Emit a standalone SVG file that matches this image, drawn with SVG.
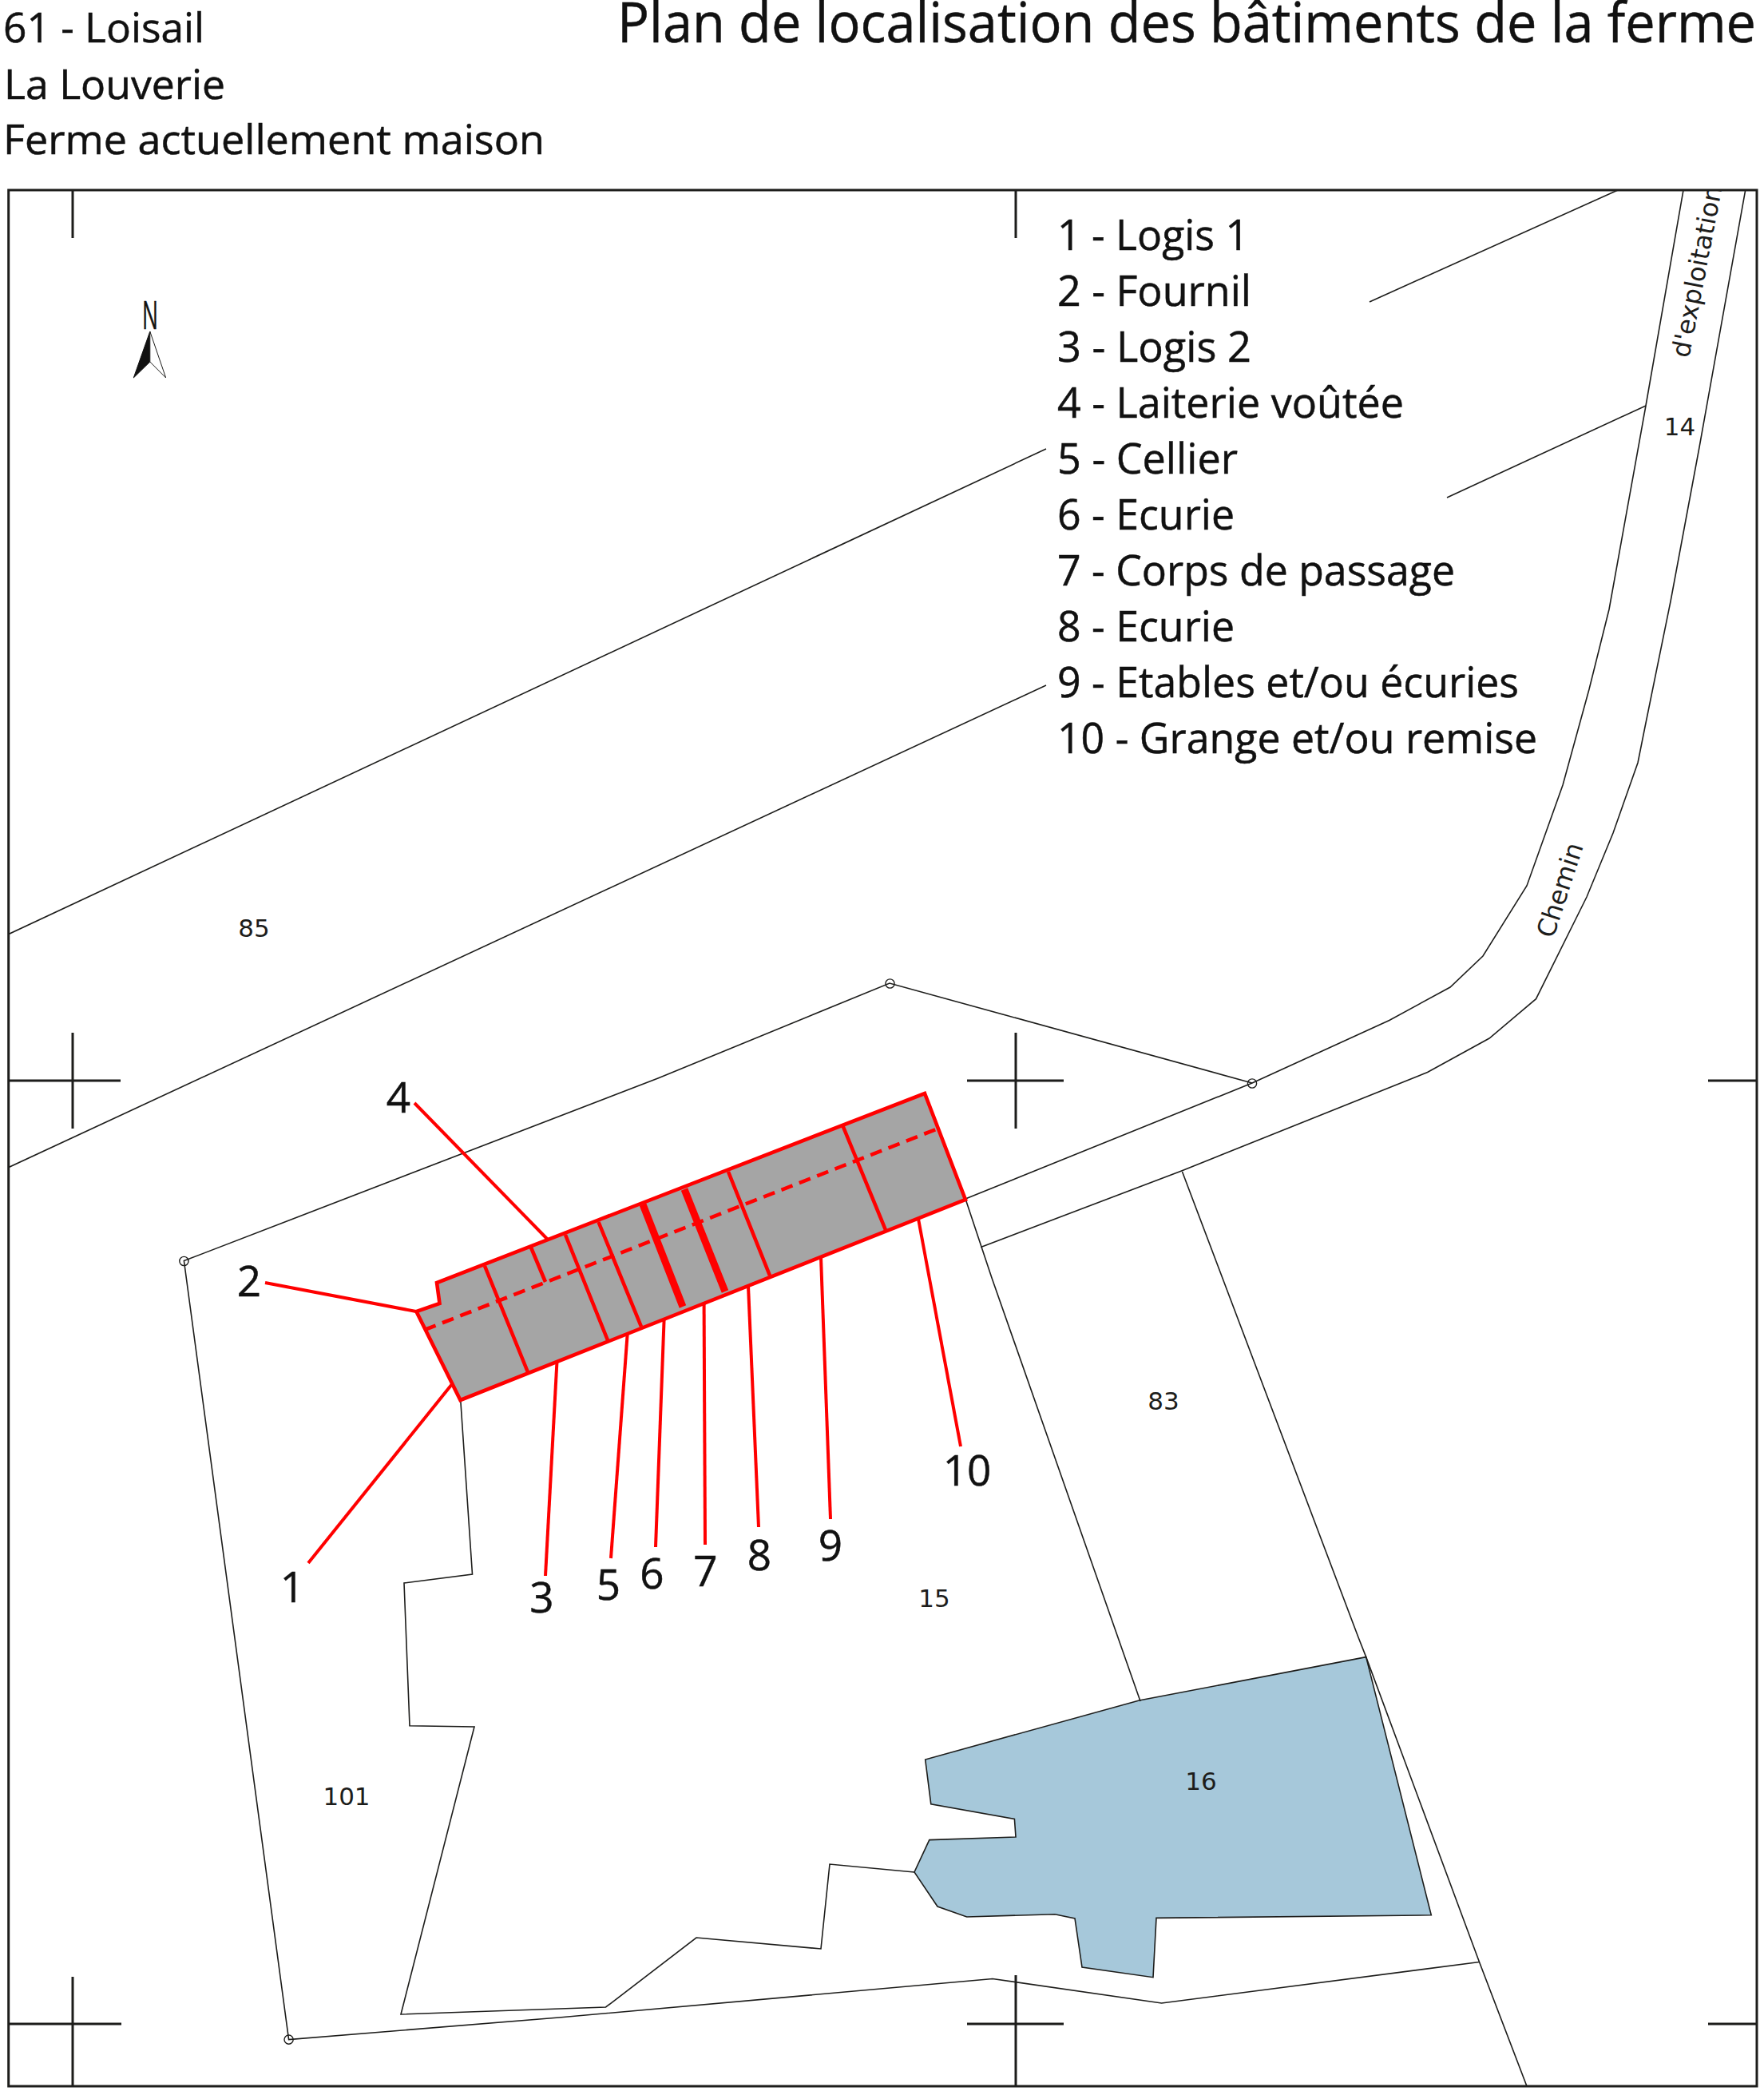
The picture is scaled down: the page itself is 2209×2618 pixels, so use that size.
<svg xmlns="http://www.w3.org/2000/svg" width="2209" height="2618" viewBox="0 0 2209 2618">
<style>
.t{font-family:"Open Sans","Noto Sans","Liberation Sans",sans-serif;fill:#111;stroke:#111;stroke-width:.5}
.hd{font-size:52px}
.lg{font-size:53px}
.num{font-size:53px;text-anchor:middle}
.p{font-family:"DejaVu Sans",sans-serif;font-size:31px;fill:#1d1d1b;text-anchor:middle}
.r{font-family:"DejaVu Sans",sans-serif;font-size:32px;fill:#1d1d1b}
.thin{fill:none;stroke:#1d1d1b;stroke-width:1.6;stroke-linejoin:miter}
.tick{fill:none;stroke:#1d1d1b;stroke-width:3}
.red{fill:none;stroke:#f00;stroke-width:4.6}
.lead{fill:none;stroke:#f00;stroke-width:4}
.thick{fill:none;stroke:#f00;stroke-width:9}
.dash{fill:none;stroke:#f00;stroke-width:4.6;stroke-dasharray:15 9}
.pt{fill:none;stroke:#1d1d1b;stroke-width:1.4}
</style>
<defs><clipPath id="map"><rect x="10.7" y="238" width="2189.3" height="2374"/></clipPath></defs>
<rect width="2209" height="2618" fill="#fff"/>

<g id="header">
<text class="t hd" x="4" y="53" textLength="252" lengthAdjust="spacingAndGlyphs">61 - Loisail</text>
<text class="t hd" x="5" y="124" textLength="277" lengthAdjust="spacingAndGlyphs">La Louverie</text>
<text class="t hd" x="4" y="193" textLength="678" lengthAdjust="spacingAndGlyphs">Ferme actuellement maison</text>
<text class="t" x="773" y="53" font-size="69" textLength="1426" lengthAdjust="spacingAndGlyphs">Plan de localisation des bâtiments de la ferme</text>
</g>

<g id="parcels">
<polygon id="parcel-16" points="1710.7,2074.6 1426.5,2129 1158.7,2203 1165.8,2258.7 1270.4,2277.5 1272,2300 1163.8,2303.6 1145,2344 1174,2387 1210.7,2400 1321,2396.7 1346,2402 1355,2463 1444,2475.7 1448,2401.4 1792.3,2397.8" fill="#a6c8da" stroke="#1d1d1b" stroke-width="1.6"/>
<g clip-path="url(#map)">
<polyline class="thin" points="2108,238 2061,508 2015,763 1990,863 1957,983 1912,1109 1857,1197 1816,1236 1739.8,1277.5 1568,1356 1209,1501"/>
<polyline class="thin" points="2185.7,238 2128,560 2092,753 2060,910 2051,955 2020,1043 1987,1123 1923.5,1250.7 1865,1300 1787.6,1342.5 1479.6,1466 1228.3,1561.4"/>
<line class="thin" x1="2026" y1="238" x2="1715" y2="378"/>
<line class="thin" x1="2061" y1="508" x2="1812" y2="623"/>
<line class="thin" x1="10" y1="1170" x2="1310" y2="562"/>
<line class="thin" x1="10" y1="1462" x2="1310" y2="858"/>
<polyline class="thin" points="1209,1501 1242,1600 1428,2130"/>
<polyline class="thin" points="1480.5,1467 1701,2050 1710.7,2074.6 1852.5,2456.5 1912,2612"/>
<polyline class="thin" points="1568,1356 1114,1231 824,1350 230.4,1578.6 361.6,2553.6 700,2526 1243,2477.5 1454.6,2508 1852.5,2456.5"/>
<polyline class="thin" points="576.8,1753.6 591.5,1971 506,1982 513,2160.7 594,2162 502,2522 758.6,2513 872,2426 1028,2440 1039,2334 1145,2344"/>
</g>
<circle class="pt" cx="230.4" cy="1579" r="5.6"/>
<circle class="pt" cx="361.6" cy="2553.6" r="5.6"/>
<circle class="pt" cx="1114.5" cy="1231.5" r="5.6"/>
<circle class="pt" cx="1568" cy="1356.5" r="5.6"/>
</g>

<g id="frame">
<rect class="tick" x="10.7" y="238" width="2189.3" height="2374"/>
<path class="tick" d="M91 238V298M1272 238V298M91 1293V1413M11 1353H151M1272 1293V1413M1211 1353H1332M2139 1353H2200M91 2475V2612M11 2534H152M1272 2473V2612M1211 2534H1332M2139 2534H2200"/>
</g>

<g id="north">
<text class="t" x="178" y="412" font-size="49" textLength="20" lengthAdjust="spacingAndGlyphs">N</text>
<polygon points="187.8,415 187.8,453 167.3,473" fill="#111" stroke="#111" stroke-width="1"/>
<polygon points="187.8,415 187.8,453 207.7,473" fill="#fff" stroke="#1d1d1b" stroke-width="1"/>
</g>

<g id="building">
<polygon points="547,1606 550.5,1632 521.4,1642 576.5,1753 1209,1502 1158,1369" fill="#a5a5a5"/>
<path class="red" d="M607 1585L661 1718M665 1562L683 1605M708 1546L761 1678M749.5 1530L803 1661M912 1467L964 1597M1055.6 1410L1109 1540"/>
<path class="thick" d="M805 1508L855 1636M857 1489L908 1617"/>
<line class="dash" x1="531.6" y1="1665" x2="1174.5" y2="1413"/>
<polygon class="red" points="547,1606 550.5,1632 521.4,1642 576.5,1753 1209,1502 1158,1369"/>
</g>

<g id="connectors">
<line class="lead" x1="519" y1="1381" x2="686" y2="1552"/>
<line class="lead" x1="332" y1="1606" x2="521" y2="1642"/>
<line class="lead" x1="386" y1="1957" x2="566" y2="1733"/>
<line class="lead" x1="683" y1="1973" x2="697.4" y2="1706"/>
<line class="lead" x1="765" y1="1951" x2="785.7" y2="1670"/>
<line class="lead" x1="821" y1="1937" x2="831.6" y2="1652"/>
<line class="lead" x1="883" y1="1934" x2="881.6" y2="1633"/>
<line class="lead" x1="950" y1="1912" x2="937" y2="1610"/>
<line class="lead" x1="1040" y1="1902" x2="1028" y2="1574"/>
<line class="lead" x1="1203" y1="1811" x2="1150" y2="1526"/>
</g>

<g id="labels">
<text class="t num" x="499" y="1393">4</text>
<text class="t num" x="312" y="1623">2</text>
<text class="t num" x="366" y="2006">1</text>
<text class="t num" x="678.5" y="2019">3</text>
<text class="t num" x="762" y="2003">5</text>
<text class="t num" x="816.5" y="1989">6</text>
<text class="t num" x="883.5" y="1986">7</text>
<text class="t num" x="951" y="1966">8</text>
<text class="t num" x="1040" y="1954">9</text>
<text class="t num" x="1211" y="1860">10</text>
</g>

<g id="legend">
<text class="t lg" x="1324" y="313" textLength="240" lengthAdjust="spacingAndGlyphs">1 - Logis 1</text>
<text class="t lg" x="1324" y="383" textLength="243" lengthAdjust="spacingAndGlyphs">2 - Fournil</text>
<text class="t lg" x="1324" y="453" textLength="243" lengthAdjust="spacingAndGlyphs">3 - Logis 2</text>
<text class="t lg" x="1324" y="523" textLength="434" lengthAdjust="spacingAndGlyphs">4 - Laiterie voûtée</text>
<text class="t lg" x="1324" y="593" textLength="226" lengthAdjust="spacingAndGlyphs">5 - Cellier</text>
<text class="t lg" x="1324" y="663" textLength="222" lengthAdjust="spacingAndGlyphs">6 - Ecurie</text>
<text class="t lg" x="1324" y="733" textLength="498" lengthAdjust="spacingAndGlyphs">7 - Corps de passage</text>
<text class="t lg" x="1324" y="803" textLength="222" lengthAdjust="spacingAndGlyphs">8 - Ecurie</text>
<text class="t lg" x="1324" y="873" textLength="578" lengthAdjust="spacingAndGlyphs">9 - Etables et/ou écuries</text>
<text class="t lg" x="1324" y="943" textLength="601" lengthAdjust="spacingAndGlyphs">10 - Grange et/ou remise</text>
</g>

<g id="parcel-labels">
<text class="p" x="318" y="1173">85</text>
<text class="p" x="1457" y="1765">83</text>
<text class="p" x="1170" y="2012">15</text>
<text class="p" x="434" y="2260">101</text>
<text class="p" x="1504" y="2241">16</text>
<text class="p" x="2103.5" y="545">14</text>
<text class="r" transform="translate(1945 1176) rotate(-72)">Chemin</text>
<g clip-path="url(#map)"><text class="r" transform="translate(2115 449) rotate(-79)">d'exploitation</text></g>
</g>
</svg>
